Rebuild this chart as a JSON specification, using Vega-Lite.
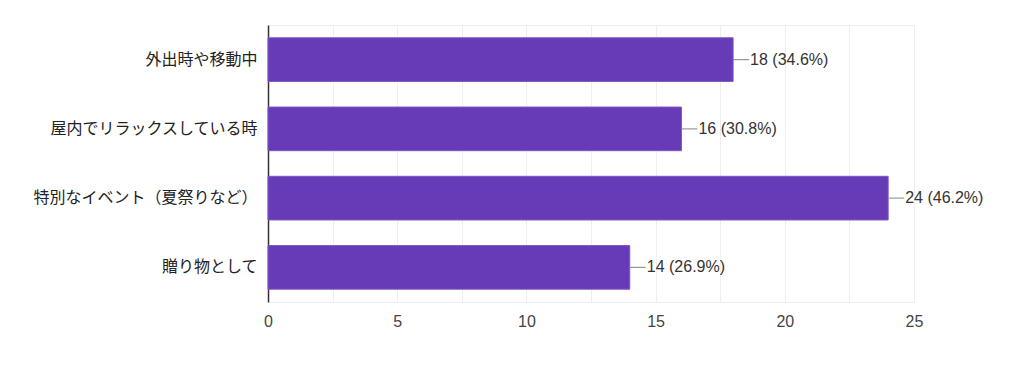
{
  "$schema": "https://vega.github.io/schema/vega-lite/v6.json",
  "width": 646,
  "height": 277,
  "autosize": {"type": "none"},
  "padding": {"left": 268, "top": 25, "right": 110, "bottom": 68},
  "background": "#ffffff",
  "config": {
    "view": {"stroke": "#eeeeee", "strokeWidth": 1},
    "font": "Liberation Sans"
  },
  "data": {
    "values": [
      {"category": "外出時や移動中", "count": 18, "label": "18 (34.6%)"},
      {"category": "屋内でリラックスしている時", "count": 16, "label": "16 (30.8%)"},
      {"category": "特別なイベント（夏祭りなど）", "count": 24, "label": "24 (46.2%)"},
      {"category": "贈り物として", "count": 14, "label": "14 (26.9%)"}
    ]
  },
  "encoding": {
    "y": {
      "field": "category",
      "type": "nominal",
      "sort": null,
      "title": null,
      "scale": {"paddingInner": 0.37, "paddingOuter": 0.185},
      "axis": {
        "domainColor": "#333333",
        "domainWidth": 1.5,
        "ticks": false,
        "labelPadding": 11,
        "labelLimit": 400,
        "labelFont": "Noto Sans CJK JP",
        "labelFontSize": 16,
        "labelColor": "#222222",
        "grid": false
      }
    }
  },
  "layer": [
    {
      "mark": {"type": "bar", "color": "#673ab7", "stroke": "#7e57c2", "strokeWidth": 1},
      "encoding": {
        "x": {
          "field": "count",
          "type": "quantitative",
          "title": null,
          "scale": {"domain": [0, 25], "nice": false},
          "axis": {
            "values": [0, 2.5, 5, 7.5, 10, 12.5, 15, 17.5, 20, 22.5, 25],
            "labelExpr": "datum.value % 5 == 0 ? datum.label : ''",
            "domain": false,
            "ticks": false,
            "gridColor": "#eeeeee",
            "labelPadding": 11,
            "labelFontSize": 16,
            "labelColor": "#444444",
            "labelFont": "Liberation Sans",
            "labelFlush": false
          }
        }
      }
    },
    {
      "mark": {"type": "rule", "color": "#999999", "strokeWidth": 1.2, "x2Offset": 16},
      "encoding": {
        "x": {"field": "count", "type": "quantitative"},
        "x2": {"field": "count"}
      }
    },
    {
      "mark": {"type": "text", "align": "left", "baseline": "middle", "dx": 17, "fontSize": 16, "color": "#333333", "font": "Liberation Sans"},
      "encoding": {
        "x": {"field": "count", "type": "quantitative"},
        "text": {"field": "label"}
      }
    }
  ]
}
